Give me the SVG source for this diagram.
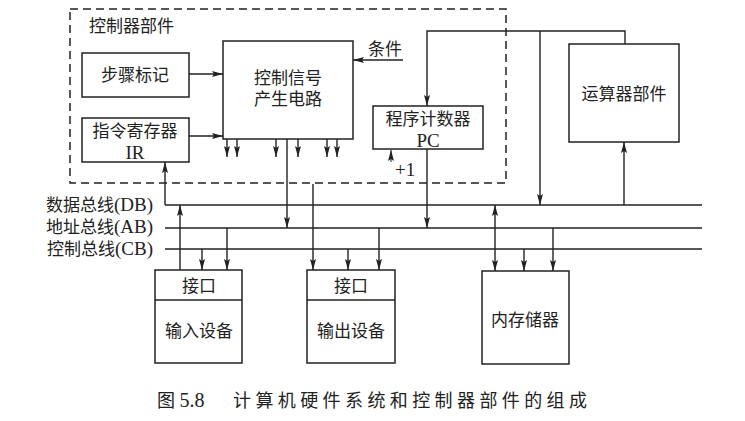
<svg xmlns="http://www.w3.org/2000/svg" width="745" height="421" viewBox="0 0 745 421">
<style>
.b{fill:none;stroke:#222;stroke-width:1.5}
.d{fill:none;stroke:#222;stroke-width:1.5;stroke-dasharray:8 5}
.c path{fill:none;stroke:#222;stroke-width:1.4;marker-end:url(#a)}
text{font-family:"Liberation Serif","Noto Sans CJK SC",serif;font-size:17px;fill:#222}
.l{font-size:19px}
.m{text-anchor:middle}
.r{text-anchor:end}
</style>
<defs>
<marker id="a" markerUnits="userSpaceOnUse" markerWidth="12" markerHeight="8" refX="11" refY="3" orient="auto-start-reverse">
<path d="M0,0 L11,3 L0,6 L2,3 z" fill="#222"/>
</marker>
</defs>
<rect width="745" height="421" fill="#fff"/>
<g id="controller">
<rect class="d" x="70" y="9" width="436" height="174"/>
<text x="89" y="32">控制器部件</text>
</g>
<g id="step"><rect class="b" x="82" y="53" width="107" height="44"/><text class="m" x="135" y="81">步骤标记</text></g>
<g id="ir"><rect class="b" x="82" y="118" width="107" height="44"/><text class="m" x="135" y="137">指令寄存器</text><text class="m l" x="135" y="159">IR</text></g>
<g id="ctrl"><rect class="b" x="223" y="41" width="130" height="98"/><text class="m" x="288" y="84">控制信号</text><text class="m" x="288" y="105">产生电路</text></g>
<g id="cond"><text x="368" y="55">条件</text></g>
<g id="pc"><rect class="b" x="373" y="106" width="110" height="43"/><text class="m" x="428" y="125">程序计数器</text><text class="m l" x="428" y="147">PC</text><text class="l" x="395" y="176">+1</text></g>
<g id="alu"><rect class="b" x="569" y="44" width="110" height="98"/><text class="m" x="624" y="100">运算器部件</text></g>
<g id="buses">
<path class="b" d="M165,205 H702 M165,228 H702 M165,249 H702"/>
<text class="r" x="153" y="211">数据总线<tspan class="l">(DB)</tspan></text>
<text class="r" x="153" y="233">地址总线<tspan class="l">(AB)</tspan></text>
<text class="r" x="153" y="255">控制总线<tspan class="l">(CB)</tspan></text>
</g>
<g id="input"><rect class="b" x="155" y="270" width="87" height="93"/><path class="b" d="M155,300 H242"/><text class="m" x="199" y="292">接口</text><text class="m" x="199" y="337">输入设备</text></g>
<g id="output"><rect class="b" x="307" y="270" width="88" height="93"/><path class="b" d="M307,300 H395"/><text class="m" x="351" y="292">接口</text><text class="m" x="351" y="337">输出设备</text></g>
<g id="memory"><rect class="b" x="482" y="271" width="87" height="93"/><text class="m" x="525" y="326">内存储器</text></g>
<g id="connectors" class="c">
<path d="M189,74 H223"/>
<path d="M189,136 H223"/>
<path d="M403,60 H353"/>
<path d="M227,139 V157"/><path d="M237,139 V157"/><path d="M276,139 V157"/><path d="M298,139 V157"/><path d="M327,139 V157"/><path d="M337,139 V157"/>
<path d="M287,139 V228"/>
<path d="M313,184 V270"/>
<path d="M165,205 V162"/>
<path d="M180,270 V205"/>
<path d="M202,249 V270"/><path d="M227,228 V270"/>
<path d="M348,249 V270"/><path d="M379,228 V270"/>
<path d="M495,205 V271" style="marker-start:url(#a)"/>
<path d="M524,249 V271"/><path d="M553,228 V271"/>
<path d="M427,149 V228"/>
<path d="M625,44 V31 H427 V106"/>
<path d="M540,31 V205"/>
<path d="M624,205 V142"/>
<path d="M391,162 V150" style="stroke-width:1"/>
</g>
<g id="caption">
<text x="157" y="407" style="font-size:18px">图 <tspan style="font-size:20px">5.8</tspan></text>
<text x="233" y="407" style="font-size:18px" textLength="354" lengthAdjust="spacing">计算机硬件系统和控制器部件的组成</text>
</g>
</svg>
